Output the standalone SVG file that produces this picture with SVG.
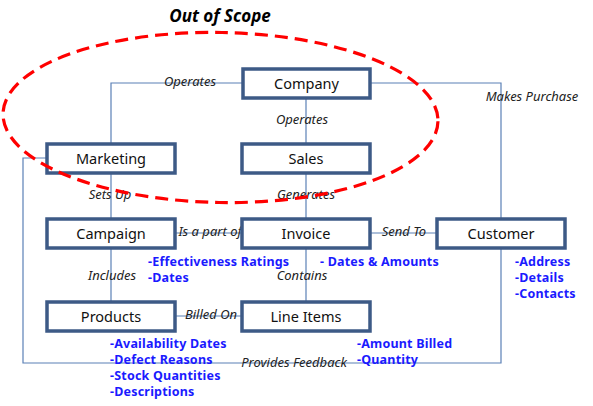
<svg xmlns="http://www.w3.org/2000/svg" width="593" height="406" viewBox="0 0 593 406">
<style>
.box{fill:#fff;stroke:#3d5a86;stroke-width:3.5}
.nt{font-family:"Noto Sans","Open Sans",sans-serif;font-size:14.5px;fill:#111;text-anchor:middle}
.lb{font-family:"Noto Sans","Open Sans",sans-serif;font-size:13px;font-style:italic;fill:#222;text-anchor:middle}
.at{font-family:"Noto Sans","Open Sans",sans-serif;font-size:12.5px;font-weight:bold;fill:#1a1aff;letter-spacing:0.2px}
.cn{fill:none;stroke:#5b80b6;stroke-width:1.2}
</style>
<rect width="593" height="406" fill="#fff"/>
<text x="220" y="22" font-family="'Noto Sans','Open Sans',sans-serif" font-size="17" font-weight="bold" font-style="italic" fill="#000" text-anchor="middle">Out of Scope</text>
<g id="connectors">
<polyline class="cn" points="243,83 111,83 111,143"/>
<polyline class="cn" points="371,83 501,83 501,218"/>
<line class="cn" x1="306" y1="99" x2="306" y2="143"/>
<line class="cn" x1="111" y1="173" x2="111" y2="218"/>
<line class="cn" x1="306" y1="173" x2="306" y2="218"/>
<line class="cn" x1="175" y1="233" x2="242" y2="233"/>
<line class="cn" x1="371" y1="233" x2="437" y2="233"/>
<line class="cn" x1="111" y1="248" x2="111" y2="301"/>
<line class="cn" x1="306" y1="248" x2="306" y2="301"/>
<line class="cn" x1="175" y1="316" x2="242" y2="316"/>
<polyline class="cn" points="501,248 501,363 23,363 23,158 47,158"/>
<text class="lb" x="190" y="86">Operates</text>
<text class="lb" x="532" y="101">Makes Purchase</text>
<text class="lb" x="302" y="124">Operates</text>
<text class="lb" x="110" y="199">Sets Up</text>
<text class="lb" x="306" y="199">Generates</text>
<text class="lb" x="210" y="236">Is a part of</text>
<text class="lb" x="404" y="236">Send To</text>
<text class="lb" x="112" y="280">Includes</text>
<text class="lb" x="302" y="280">Contains</text>
<text class="lb" x="211" y="319">Billed On</text>
<text class="lb" x="294" y="367">Provides Feedback</text>
</g>
<g id="company"><rect class="box" x="243" y="69" width="127" height="29"/><text class="nt" x="306.5" y="88.5">Company</text></g>
<g id="marketing"><rect class="box" x="47" y="144" width="128" height="29"/><text class="nt" x="111" y="163.5">Marketing</text></g>
<g id="sales"><rect class="box" x="242" y="144" width="128" height="29"/><text class="nt" x="306" y="163.5">Sales</text></g>
<g id="campaign"><rect class="box" x="47" y="219" width="128" height="29"/><text class="nt" x="111" y="238.5">Campaign</text></g>
<g id="invoice"><rect class="box" x="242" y="219" width="128" height="29"/><text class="nt" x="306" y="238.5">Invoice</text></g>
<g id="customer"><rect class="box" x="437" y="219" width="128" height="29"/><text class="nt" x="501" y="238.5">Customer</text></g>
<g id="products"><rect class="box" x="47" y="302" width="128" height="29"/><text class="nt" x="111" y="321.5">Products</text></g>
<g id="lineitems"><rect class="box" x="242" y="302" width="128" height="29"/><text class="nt" x="306" y="321.5">Line Items</text></g>
<g id="attributes">
<text class="at" x="148" y="266">-Effectiveness Ratings</text>
<text class="at" x="148" y="282">-Dates</text>
<text class="at" x="320" y="266">- Dates &amp; Amounts</text>
<text class="at" x="515" y="266">-Address</text>
<text class="at" x="515" y="282">-Details</text>
<text class="at" x="515" y="298">-Contacts</text>
<text class="at" x="110" y="348">-Availability Dates</text>
<text class="at" x="110" y="364">-Defect Reasons</text>
<text class="at" x="110" y="380">-Stock Quantities</text>
<text class="at" x="110" y="396">-Descriptions</text>
<text class="at" x="357" y="348">-Amount Billed</text>
<text class="at" x="357" y="364">-Quantity</text>
</g>
<ellipse id="scope" cx="220.5" cy="117.5" rx="217.5" ry="85" transform="rotate(1 220.5 117.5)" fill="none" stroke="#ff0000" stroke-width="3.2" stroke-dasharray="13 7"/>
</svg>
